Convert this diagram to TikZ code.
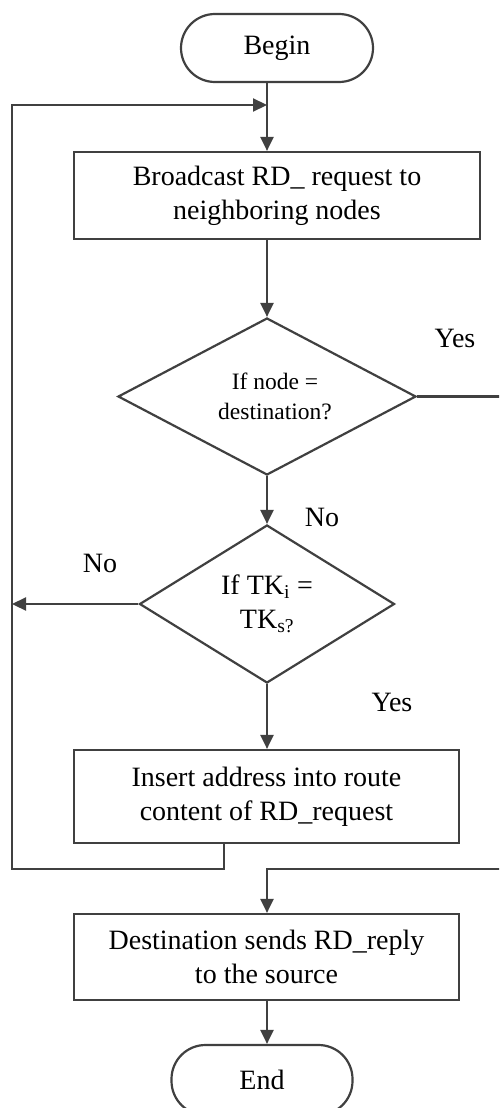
\documentclass[tikz,border=0pt]{standalone}
\usepackage{fontspec}
\setmainfont{Liberation Serif}
\usetikzlibrary{arrows.meta,shapes.geometric}
\begin{document}
\begin{tikzpicture}[x=1pt,y=-1pt,
  line width=2.2pt,
  term/.style={draw=black!75,rectangle,rounded corners=34pt,inner sep=0pt,font=\fontsize{28}{34}\selectfont},
  procbox/.style={draw=black!75,rectangle,inner sep=0pt,align=center,font=\fontsize{28}{34}\selectfont},
  decision/.style={draw=black!75,diamond,inner sep=0pt,align=center},
  lbl/.style={font=\fontsize{28}{34}\selectfont,inner sep=0pt},
  arr/.style={draw=black!75,-{Triangle[length=14pt,width=13pt]}}]
\clip (0,0) rectangle (499,1108);
\fill[white] (0,0) rectangle (499,1108);

\node[term,minimum width=192pt,minimum height=68pt] (begin) at (277,48) {Begin};
\node[procbox,minimum width=406pt,minimum height=87pt] (b1) at (277,195.5) {Broadcast RD\_ request to\\neighboring nodes};
\node[decision,minimum width=298pt,minimum height=157pt,aspect=1.9,font=\fontsize{23.5}{30}\selectfont] (d1) at (267,396.5) {\hspace*{16pt}If node =\\\hspace*{16pt}destination?};
\node[decision,minimum width=255pt,minimum height=158pt,aspect=1.61,font=\fontsize{28}{34}\selectfont] (d2) at (267,604) {If TK\textsubscript{i} =\\TK\textsubscript{s?}};
\node[procbox,minimum width=385pt,minimum height=93pt] (b2) at (266.5,796.5) {Insert address into route\\content of RD\_request};
\node[procbox,minimum width=385pt,minimum height=86pt] (b3) at (266.5,957) {Destination sends RD\_reply\\to the source};
\node[term,minimum width=181pt,minimum height=70pt] (end) at (262,1080) {End};

\node[lbl] (yes1) at (455,338) {Yes};
\node[lbl] (no1) at (322,517) {No};
\node[lbl] (no2) at (100,563) {No};
\node[lbl] (yes2) at (392,702) {Yes};

\coordinate (merge) at (267,105);
\coordinate (loopTL) at (12,105);
\coordinate (loopBL) at (12,869);
\coordinate (loopBR) at (224,869);
\coordinate (rightT) at (501,397);
\coordinate (rightB) at (501,869);
\coordinate (joinB) at (267,869);

\draw[arr] (begin.south -| merge) -- (b1.north -| merge);
\draw[arr] (b1.south -| d1.north) -- (d1.north);
\draw[arr] (d1.south) -- (d2.north);
\draw[arr] (d2.south) -- (b2.north -| d2.south);
\draw[arr] (d2.west) -- (d2.west -| loopTL);
\draw[arr] (b2.south -| loopBR) -- (loopBR) -- (loopBL) -- (loopTL) -- (merge);
\draw[arr] (d1.east) -- (d1.east -| rightT) -- (rightB) -- (joinB) -- (b3.north -| joinB);
\draw[arr] (b3.south -| joinB) -- (end.north -| joinB);
\end{tikzpicture}
\end{document}
